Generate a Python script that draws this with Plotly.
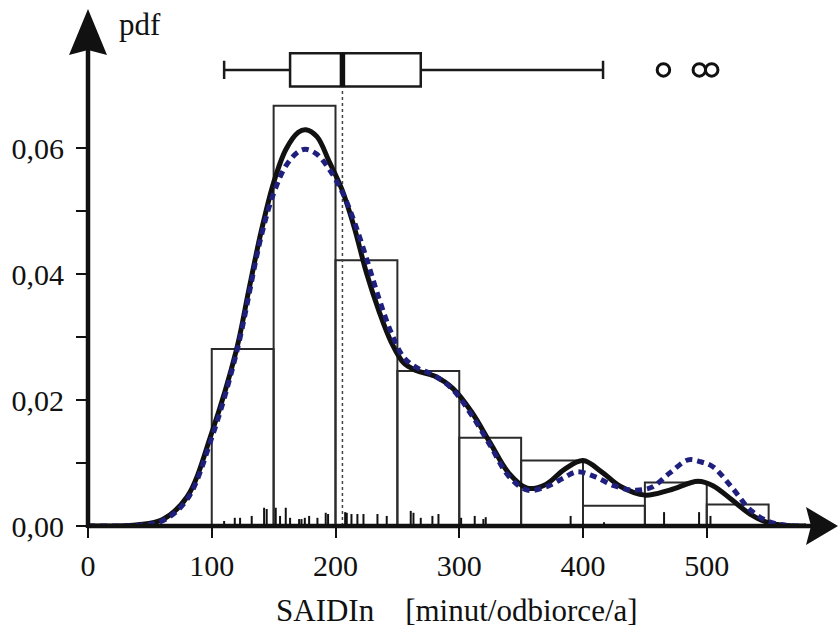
import plotly.graph_objects as go

# ---------------- data ----------------
bin_left = [100, 150, 200, 250, 300, 350, 400, 450, 500]
bin_width = 50
hist_density = [0.0281, 0.0667, 0.0422, 0.0246, 0.0140, 0.0104, 0.0032, 0.0069, 0.0034]

kde_x = [0, 20, 40, 60, 80, 100, 120, 130, 140, 150, 160, 170, 176, 185, 195, 205, 215,
         225, 235, 245, 255, 265, 280, 295, 310, 325, 340, 355, 370, 385, 400, 415, 430,
         450, 470, 493, 505, 520, 535, 550, 565, 580]
kde_solid = [0, 0, 0.0002, 0.0010, 0.0046, 0.0148, 0.0280, 0.0375, 0.0468, 0.0545,
             0.0598, 0.0625, 0.0629, 0.0618, 0.0578, 0.0535, 0.0475, 0.0402, 0.0342,
             0.0292, 0.0259, 0.0247, 0.0238, 0.0218, 0.0181, 0.0132, 0.0084, 0.0060,
             0.0066, 0.0090, 0.0104, 0.0086, 0.0063, 0.0049, 0.0057, 0.0071, 0.0064,
             0.0042, 0.0019, 0.0005, 0.0001, 0]

kde2_x = [0, 20, 40, 60, 80, 100, 120, 140, 150, 160, 170, 176, 185, 195, 205, 215, 225,
          235, 245, 255, 265, 280, 295, 310, 325, 340, 355, 370, 385, 395, 410, 425, 440,
          455, 470, 485, 495, 505, 520, 535, 550, 565, 580]
kde_dashed = [0, 0, 0.0001, 0.0008, 0.0042, 0.0140, 0.0275, 0.0460, 0.0528, 0.0572,
              0.0594, 0.0598, 0.0590, 0.0566, 0.0532, 0.0484, 0.0425, 0.0362, 0.0307,
              0.0268, 0.0252, 0.0239, 0.0216, 0.0176, 0.0128, 0.0079, 0.0057, 0.0062,
              0.0077, 0.0086, 0.0078, 0.0064, 0.0057, 0.0061, 0.0084, 0.0105, 0.0102,
              0.0094, 0.0062, 0.0026, 0.0007, 0.0001, 0]

rug_x = [110, 118.6, 122.9, 132.3, 142.3, 144.4, 151.7, 155.2, 159.8, 163.3, 170.6,
         172.5, 175.2, 178.7, 185.4, 192.1, 194, 207.8, 209.1, 212.9, 217.7, 222.6,
         233.9, 241.4, 260.8, 263, 268.9, 278.3, 283.2, 301.5, 312.5, 319.5, 321.4,
         390, 417, 465.5, 493.8, 503]
rug_h = [0.0008, 0.0013, 0.0013, 0.0016, 0.0029, 0.0027, 0.0029, 0.0016, 0.0029, 0.0013,
         0.0011, 0.0011, 0.0013, 0.0016, 0.0013, 0.0021, 0.0019, 0.0022, 0.0021, 0.0019,
         0.0019, 0.0019, 0.0019, 0.0016, 0.0024, 0.0021, 0.0013, 0.0016, 0.0019, 0.0013,
         0.0016, 0.0011, 0.0014, 0.0016, 0.0006, 0.0022, 0.0022, 0.0016]

box_lower, box_q1, box_median, box_q3, box_upper = 110, 163.3, 205.6, 268.9, 416.2
outliers = [465, 494, 504]
box_y = 0.0724
box_h = 0.0053

x_tickvals = [0, 100, 200, 300, 400, 500]
x_ticktext = ["0", "100", "200", "300", "400", "500"]
y_tickvals = [0, 0.01, 0.02, 0.03, 0.04, 0.05, 0.06]
y_ticktext = ["0,00", "", "0,02", "", "0,04", "", "0,06"]

# ---------------- layout geometry ----------------
W, H = 840, 630
L, R, T, B = 88, 838, 10, 526          # plot area in pixels
PX_PER_X = 1.2375                       # pixels per x unit
PX_PER_Y = 6300.0                       # pixels per pdf unit
Wp, Hp = R - L, B - T
xmax = Wp / PX_PER_X
ymax = Hp / PX_PER_Y

def px(xp):
    return (xp - L) / Wp

def py(yp):
    return (B - yp) / Hp

FONT = "Liberation Serif, Times New Roman, serif"
TXT = "#111111"
fig = go.Figure()

# histogram
fig.add_trace(go.Bar(
    x=[b + bin_width / 2 for b in bin_left], y=hist_density, width=bin_width,
    marker=dict(color="rgba(0,0,0,0)", line=dict(color="#2b2b2b", width=2)),
    hoverinfo="skip", showlegend=False))

# dotted median line
fig.add_trace(go.Scatter(
    x=[box_median, box_median], y=[0, box_y - box_h / 2], mode="lines",
    line=dict(color="#444444", width=1.5, dash="dot"), hoverinfo="skip", showlegend=False))

# rug
rx, ry = [], []
for xv, hv in zip(rug_x, rug_h):
    rx += [xv, xv, None]
    ry += [0, hv, None]
fig.add_trace(go.Scatter(x=rx, y=ry, mode="lines", line=dict(color="#111111", width=2),
                         hoverinfo="skip", showlegend=False))

# KDE curves
fig.add_trace(go.Scatter(x=kde_x, y=kde_solid, mode="lines", line_shape="spline",
                         line=dict(color="#111111", width=5), hoverinfo="skip", showlegend=False))
fig.add_trace(go.Scatter(x=kde2_x, y=kde_dashed, mode="lines", line_shape="spline",
                         line=dict(color="#1f1f7d", width=5, dash="7px,5px"),
                         hoverinfo="skip", showlegend=False))

# boxplot
fig.add_trace(go.Box(
    orientation="h", y=[box_y], q1=[box_q1], median=[box_median], q3=[box_q3],
    lowerfence=[box_lower], upperfence=[box_upper], width=box_h, whiskerwidth=0.55,
    fillcolor="white", line=dict(color="#1a1a1a", width=2.5), boxpoints=False,
    hoverinfo="skip", showlegend=False))
fig.add_trace(go.Scatter(
    x=[box_median, box_median], y=[box_y - box_h / 2, box_y + box_h / 2], mode="lines",
    line=dict(color="#111111", width=5.5), hoverinfo="skip", showlegend=False))
fig.add_trace(go.Scatter(
    x=outliers, y=[box_y] * len(outliers), mode="markers",
    marker=dict(symbol="circle-open", size=12.5, color="#111111", line=dict(width=3)),
    hoverinfo="skip", showlegend=False))

# axes lines + arrows (decorations in paper space)
shapes = [
    dict(type="line", xref="paper", yref="paper", x0=px(L), x1=px(812), y0=py(B), y1=py(B),
         line=dict(color="#111111", width=4.5)),
    dict(type="line", xref="paper", yref="paper", x0=px(L), x1=px(L), y0=py(B + 2), y1=py(48),
         line=dict(color="#111111", width=4.5)),
    dict(type="path", xref="paper", yref="paper", fillcolor="#111111", line=dict(width=0),
         path=f"M {px(838)} {py(B)} L {px(806)} {py(B - 19)} L {px(811)} {py(B)} "
              f"L {px(806)} {py(B + 19)} Z"),
    dict(type="path", xref="paper", yref="paper", fillcolor="#111111", line=dict(width=0),
         path=f"M {px(L)} {py(9)} L {px(L + 19)} {py(55)} L {px(L)} {py(50)} "
              f"L {px(L - 19)} {py(55)} Z"),
]

annotations = [
    dict(text="pdf", xref="paper", yref="paper", x=px(117), y=py(24), xanchor="left",
         yanchor="middle", showarrow=False, font=dict(family=FONT, size=31, color=TXT)),
    dict(text="SAIDIn\u00a0\u00a0\u00a0\u00a0[minut/odbiorce/a]", xref="paper", yref="paper",
         x=px(457), y=py(610), xanchor="center", yanchor="middle", showarrow=False,
         font=dict(family=FONT, size=31, color=TXT)),
]

fig.update_layout(
    width=W, height=H,
    margin=dict(l=L, r=W - R, t=T, b=H - B, pad=0),
    paper_bgcolor="white", plot_bgcolor="white",
    showlegend=False, shapes=shapes, annotations=annotations,
    xaxis=dict(range=[0, xmax], showgrid=False, zeroline=False, showline=False,
               tickvals=x_tickvals, ticktext=x_ticktext, ticks="outside", ticklen=11,
               tickwidth=2, tickcolor="#111111", ticklabelstandoff=2,
               tickfont=dict(family=FONT, size=30, color=TXT)),
    yaxis=dict(range=[0, ymax], showgrid=False, zeroline=False, showline=False,
               tickvals=y_tickvals, ticktext=y_ticktext, ticks="outside", ticklen=11,
               tickwidth=2, tickcolor="#111111", ticklabelstandoff=6,
               tickfont=dict(family=FONT, size=30, color=TXT)),
)

fig.write_html("out.html")
